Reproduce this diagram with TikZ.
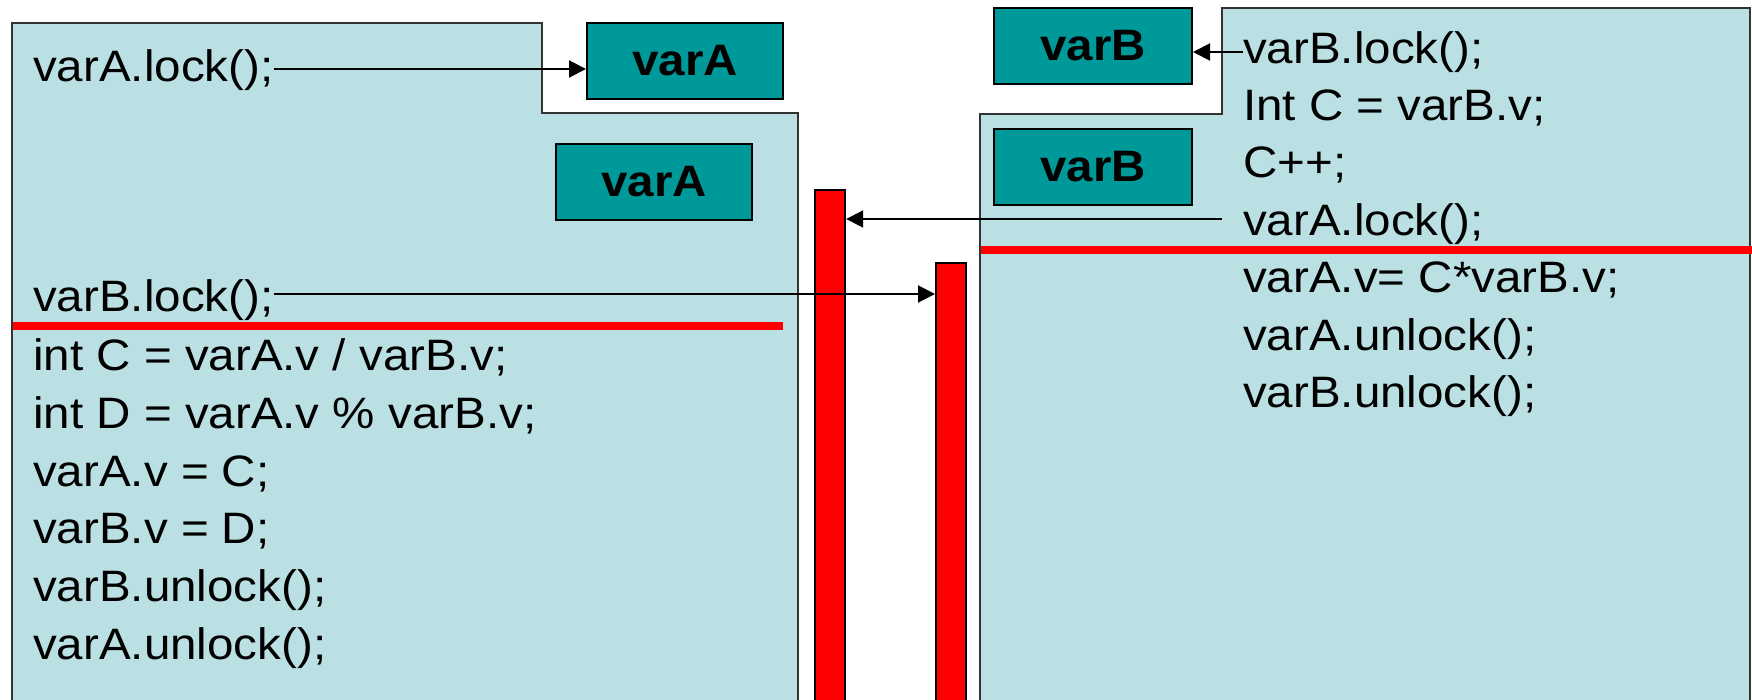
\documentclass[tikz,border=0pt]{standalone}
\usepackage{fontspec}
\setmainfont{Liberation Sans}[FakeStretch=1.08]
\usetikzlibrary{arrows.meta}
\definecolor{panelfill}{HTML}{BBE0E3}
\definecolor{tealbox}{HTML}{009999}
\definecolor{lockred}{HTML}{FF0000}
\tikzset{
  panel/.style={draw=black!80, line width=1.8pt, fill=panelfill},
  varbox/.style={draw=black, line width=2pt, fill=tealbox, inner sep=0pt,
    font=\fontsize{44}{52}\selectfont\bfseries},
  codeline/.style={inner sep=0pt, anchor=base west, font=\fontsize{44}{52}\selectfont},
  redbar/.style={draw=black, line width=2.2pt, fill=lockred, inner sep=0pt, anchor=north west},
  redline/.style={draw=lockred, line width=8pt},
  lockarrow/.style={draw=black, line width=2pt, -{Triangle[length=17pt,width=17pt]}}
}
\begin{document}
\begin{tikzpicture}[x=1pt,y=-1pt]
\useasboundingbox (0,0) rectangle (1752,700);
\clip (0,0) rectangle (1752,700);
% panels
\draw[panel] (12,23) -- (542,23) -- (542,113) -- (798,113) -- (798,720) -- (12,720) -- cycle;
\draw[panel] (980,720) -- (980,114) -- (1222,114) -- (1222,8) -- (1750,8) -- (1750,720) -- cycle;
% red bars
\node[redbar, minimum width=30pt, minimum height=530pt] (bar1) at (814,189) {};
\node[redbar, minimum width=30pt, minimum height=460pt] (bar2) at (935,262) {};
% teal boxes
\node[varbox, minimum width=196pt, minimum height=76pt] (boxA1) at (685,61) {varA};
\node[varbox, minimum width=196pt, minimum height=76pt] (boxA2) at (654,182) {varA};
\node[varbox, minimum width=198pt, minimum height=76pt] (boxB1) at (1093,46) {varB};
\node[varbox, minimum width=198pt, minimum height=76pt] (boxB2) at (1093,167) {varB};
% red lines
\draw[redline] (13,326) -- (783,326);
\draw[redline] (981,250) -- (1752,250);
% left code
\node[codeline] (l1) at (33,82) {varA.lock();};
\node[codeline] (l2) at (33,312) {varB.lock();};
\node[codeline] (l3) at (33,370) {int C = varA.v / varB.v;};
\node[codeline] (l4) at (33,428) {int D = varA.v \% varB.v;};
\node[codeline] (l5) at (33,486) {varA.v = C;};
\node[codeline] (l6) at (33,543) {varB.v = D;};
\node[codeline] (l7) at (33,601) {varB.unlock();};
\node[codeline] (l8) at (33,659) {varA.unlock();};
% right code
\node[codeline] (r1) at (1243,64) {varB.lock();};
\node[codeline] (r2) at (1243,121) {Int C = varB.v;};
\node[codeline] (r3) at (1243,178) {C++;};
\node[codeline] (r4) at (1243,236) {varA.lock();};
\node[codeline] (r5) at (1243,293) {varA.v= C*varB.v;};
\node[codeline] (r6) at (1243,350) {varA.unlock();};
\node[codeline] (r7) at (1243,407) {varB.unlock();};
% arrows
\coordinate (a4start) at (1222,219);
\draw[lockarrow] ([yshift=13pt]l1.base east) -- ([yshift=13pt]l1.base east -| boxA1.west);
\draw[lockarrow] ([yshift=18pt]l2.base east) -- ([yshift=18pt]l2.base east -| bar2.west);
\draw[lockarrow] ([yshift=12pt]r1.base west) -- ([yshift=12pt]r1.base west -| boxB1.east);
\draw[lockarrow] (a4start) -- (a4start -| bar1.east);
\end{tikzpicture}
\end{document}
